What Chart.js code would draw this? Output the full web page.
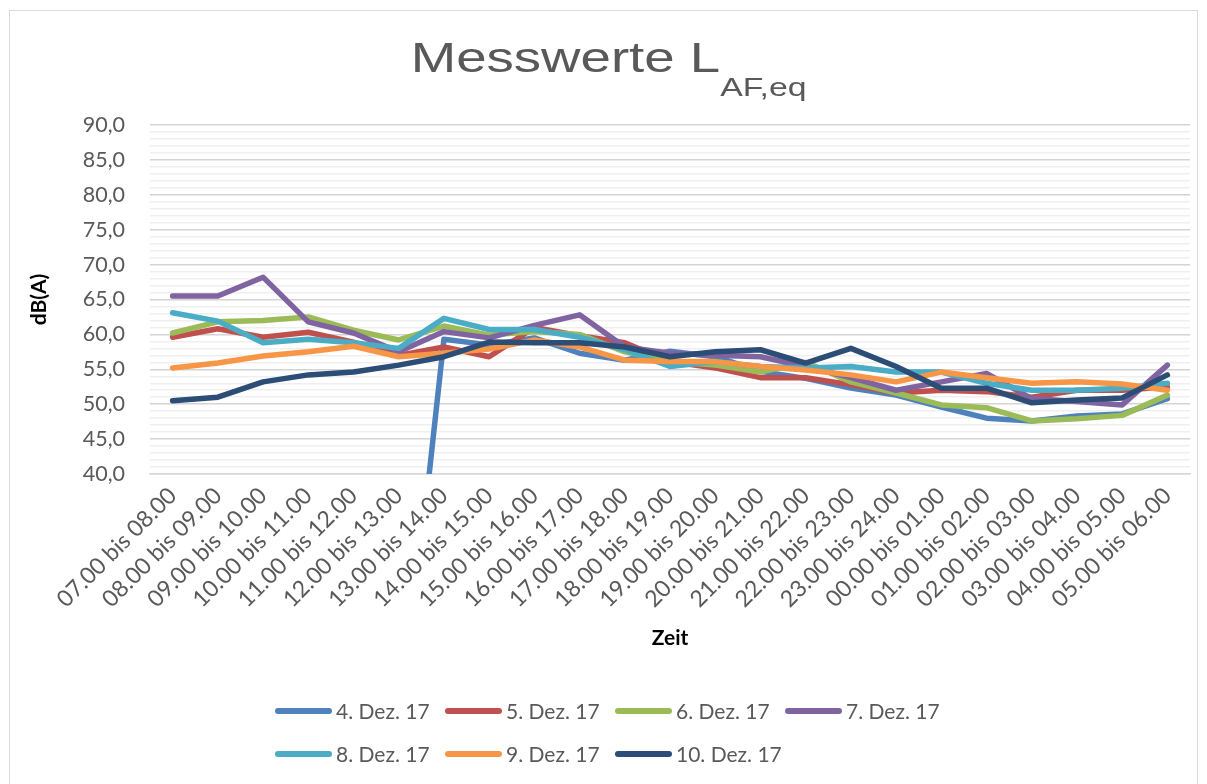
<!DOCTYPE html>
<html>
<head>
<meta charset="utf-8">
<script src="https://cdn.jsdelivr.net/npm/chart.js@4/dist/chart.umd.min.js"></script>
<style>
  html, body { margin: 0; padding: 0; background: #ffffff; }
  #wrap { position: relative; width: 1207px; height: 784px; overflow: hidden; background: #fff; }
  #frame { position: absolute; left: 9px; top: 10px; width: 1189px; height: 800px; border: 1px solid #d9d9d9; box-sizing: border-box; }
  #c { position: absolute; left: 0; top: 0; }
  #title { position: absolute; left: 0; top: 37px; width: 1217px; text-align: center;
           font-family: "Liberation Sans", Arial, sans-serif; font-size: 42px; line-height: 42px;
           color: #595959; transform: scaleX(1.3); transform-origin: 608px 0; white-space: nowrap; }
  #title sub { font-size: 26px; vertical-align: -24px; line-height: 0; }
  #legend { position: absolute; left: 275px; top: 689px; width: 690px; display: flex; flex-wrap: wrap;
            font-family: Lato, "Open Sans", sans-serif; font-size: 21px; color: #595959; }
  .item { width: 170px; height: 43px; display: flex; align-items: center; }
  .sw { width: 57px; height: 6px; border-radius: 3px; margin-right: 4px; flex: none; }
</style>
</head>
<body>
<div id="wrap">
  <div id="frame"></div>
  <canvas id="c" width="1207" height="784"></canvas>
  <div id="title">Messwerte L<sub>AF,eq</sub></div>
  <div id="legend"></div>
</div>
<script>
const categories = ["07.00 bis 08.00","08.00 bis 09.00","09.00 bis 10.00","10.00 bis 11.00","11.00 bis 12.00","12.00 bis 13.00","13.00 bis 14.00","14.00 bis 15.00","15.00 bis 16.00","16.00 bis 17.00","17.00 bis 18.00","18.00 bis 19.00","19.00 bis 20.00","20.00 bis 21.00","21.00 bis 22.00","22.00 bis 23.00","23.00 bis 24.00","00.00 bis 01.00","01.00 bis 02.00","02.00 bis 03.00","03.00 bis 04.00","04.00 bis 05.00","05.00 bis 06.00"];

const seriesNames = ["4. Dez. 17","5. Dez. 17","6. Dez. 17","7. Dez. 17","8. Dez. 17","9. Dez. 17","10. Dez. 17"];
const seriesColors = ["#4F81BD","#C0504D","#9BBB59","#8064A2","#4BACC6","#F79646","#2C4D75"];

const dez4  = [0,0,0,0,0,0,59.3,58.5,59.5,57.3,56.3,57.6,56.8,54.7,53.7,52.3,51.3,49.6,48.0,47.6,48.3,48.6,50.8];
const dez5  = [59.6,60.8,59.6,60.3,58.9,57.0,58.2,56.8,61.0,59.8,58.8,56.1,55.2,53.8,53.8,52.8,51.6,52.0,51.8,51.0,52.0,52.0,52.5];
const dez6  = [60.2,61.8,62.0,62.5,60.6,59.2,61.2,59.9,60.4,60.0,57.5,56.1,55.6,54.6,56.0,53.2,51.6,49.9,49.5,47.6,47.9,48.4,51.3];
const dez7  = [65.5,65.5,68.2,61.8,60.2,57.5,60.4,59.5,61.3,62.8,58.2,57.3,57.0,56.8,55.4,53.8,52.0,53.2,54.4,50.8,50.4,49.9,55.6];
const dez8  = [63.1,61.9,58.8,59.3,58.8,58.0,62.3,60.7,60.7,59.6,57.8,55.4,56.1,55.4,55.2,55.4,54.6,54.6,53.0,52.0,52.0,52.3,53.0];
const dez9  = [55.2,55.9,56.9,57.5,58.3,56.8,57.3,57.9,59.2,58.2,56.3,56.1,56.1,55.4,54.9,54.2,53.2,54.6,53.8,53.0,53.2,52.9,52.0];
const dez10 = [50.5,51.0,53.2,54.2,54.6,55.6,56.8,58.9,58.8,58.8,58.2,56.8,57.5,57.8,55.9,58.0,55.4,52.3,52.3,50.2,50.6,50.9,54.2];

const seriesValues = [dez4, dez5, dez6, dez7, dez8, dez9, dez10];

const yMin = 40, yMax = 90, yMajor = 5, yMinor = 1;
const xTitle = "Zeit", yTitle = "dB(A)";

const textColor = "#595959";
const datasets = seriesValues.map((vals, i) => ({
  label: seriesNames[i],
  data: vals,
  borderColor: seriesColors[i],
  backgroundColor: seriesColors[i],
  borderWidth: 5.5,
  pointRadius: 0,
  pointHoverRadius: 0,
  tension: 0,
  borderCapStyle: 'round',
  borderJoinStyle: 'round',
  fill: false,
  clip: 0,
  order: seriesValues.length - 1 - i
}));

const chart = new Chart(document.getElementById('c'), {
  type: 'line',
  data: { labels: categories, datasets },
  options: {
    responsive: false,
    animation: false,
    events: [],
    layout: { padding: { top: 125, left: 0, right: 17, bottom: 110 } },
    plugins: { legend: { display: false }, title: { display: false }, tooltip: { enabled: false } },
    scales: {
      x: {
        offset: true,
        afterFit: (s) => { s.height = 200; },
        grid: { display: false, drawTicks: false },
        border: { display: true, color: '#D9D9D9', width: 1.5 },
        ticks: {
          autoSkip: false, minRotation: 45, maxRotation: 45, padding: 8,
          color: textColor, font: { family: 'Lato', size: 23 }
        },
        title: { display: true, text: xTitle, color: '#000', font: { family: 'Lato', size: 21, weight: 'bold' },
                 padding: { top: 0, bottom: 23 } }
      },
      y: {
        min: yMin, max: yMax,
        afterFit: (s) => { s.width = 150; },
        afterBuildTicks: (s) => {
          const t = [];
          for (let v = yMin; v <= yMax; v += yMinor) t.push({ value: v });
          s.ticks = t;
        },
        border: { display: false },
        grid: {
          drawTicks: false,
          lineWidth: 1.5,
          color: (ctx) => (ctx.tick && ctx.tick.value % yMajor === 0) ? '#D4D4D4' : '#EFEFEF'
        },
        ticks: {
          autoSkip: false, padding: 25, color: textColor, font: { family: 'Lato', size: 21.5 },
          callback: (v) => (v % yMajor === 0) ? Number(v).toFixed(1).replace('.', ',') : ''
        },
        title: { display: true, text: yTitle, color: '#000', font: { family: 'Lato', size: 21, weight: 'bold' },
                 padding: { top: 27, bottom: 0 } }
      }
    }
  }
});

const legend = document.getElementById('legend');
chart.data.datasets.forEach((ds) => {
  const item = document.createElement('div');
  item.className = 'item';
  const sw = document.createElement('span');
  sw.className = 'sw';
  sw.style.background = ds.borderColor;
  const tx = document.createElement('span');
  tx.textContent = ds.label;
  item.appendChild(sw); item.appendChild(tx);
  legend.appendChild(item);
});
</script>
</body>
</html>
